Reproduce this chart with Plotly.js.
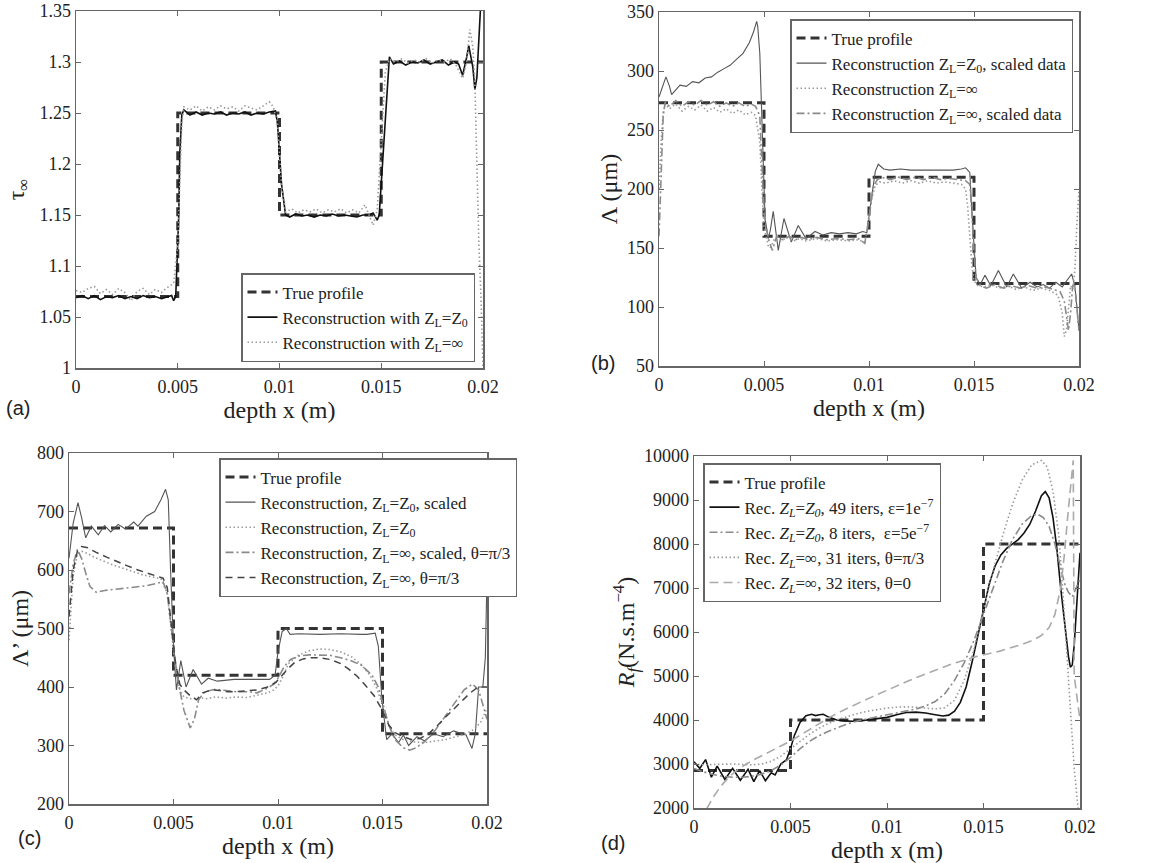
<!DOCTYPE html>
<html><head><meta charset="utf-8">
<script src="https://cdn.plot.ly/plotly-3.0.1.min.js"></script>
<style>html,body{margin:0;padding:0;background:#fff}#chart{width:1158px;height:863px}</style>
</head><body><div id="chart"></div>
<script>
// ---------- shared ticks ----------
const xTickVals = [0, 0.005, 0.01, 0.015, 0.02];
const xTickText = ['0', '0.005', '0.01', '0.015', '0.02'];
const aYTickVals = [1, 1.05, 1.1, 1.15, 1.2, 1.25, 1.3, 1.35];
const aYTickText = ['1', '1.05', '1.1', '1.15', '1.2', '1.25', '1.3', '1.35'];
const bYTickVals = [50, 100, 150, 200, 250, 300, 350];
const cYTickVals = [200, 300, 400, 500, 600, 700, 800];
const dYTickVals = [2000, 3000, 4000, 5000, 6000, 7000, 8000, 9000, 10000];
const dYTickText = ['2000', '3000', '4000', '5000', '6000', '7000', '8000', '9000', '10000'];

// ---------- panel (a) ----------
const aTrueX = [0, 0.005, 0.005, 0.01, 0.01, 0.015, 0.015, 0.02];
const aTrueY = [1.07, 1.07, 1.25, 1.25, 1.15, 1.15, 1.30, 1.30];
const aZ0X = [0, 0.0003, 0.0006, 0.0009, 0.0012, 0.0015, 0.0018, 0.0021, 0.0024, 0.0027,
  0.003, 0.0033, 0.0036, 0.0039, 0.0042, 0.0045, 0.0047, 0.0048, 0.0049, 0.00505,
  0.0051, 0.0052, 0.0053, 0.0056, 0.0059, 0.0062, 0.0065, 0.0068, 0.0071, 0.0074,
  0.0077, 0.008, 0.0083, 0.0086, 0.0089, 0.0092, 0.0095, 0.0098, 0.0099, 0.0101,
  0.0103, 0.0105, 0.0108, 0.0111, 0.0114, 0.0117, 0.012, 0.0123, 0.0126, 0.0129,
  0.0132, 0.0135, 0.0138, 0.0141, 0.0144, 0.0146, 0.0148, 0.0149, 0.0151, 0.0153,
  0.0154, 0.0156, 0.0159, 0.0162, 0.0165, 0.0168, 0.0171, 0.0174, 0.0177, 0.018,
  0.0183, 0.0186, 0.0188, 0.019, 0.0192, 0.0193, 0.0195, 0.0196, 0.0197, 0.0198,
  0.0199, 0.02];
const aZ0Y = [1.069, 1.071, 1.068, 1.071, 1.067, 1.070, 1.069, 1.071, 1.068, 1.070,
  1.068, 1.071, 1.069, 1.070, 1.068, 1.070, 1.071, 1.066, 1.070, 1.150,
  1.210, 1.248, 1.253, 1.248, 1.251, 1.248, 1.250, 1.249, 1.251, 1.248,
  1.250, 1.249, 1.251, 1.248, 1.250, 1.249, 1.251, 1.252, 1.240, 1.180,
  1.150, 1.148, 1.151, 1.149, 1.150, 1.148, 1.150, 1.149, 1.151, 1.149,
  1.150, 1.149, 1.148, 1.150, 1.150, 1.152, 1.145, 1.150, 1.210, 1.280,
  1.305, 1.298, 1.301, 1.297, 1.300, 1.299, 1.302, 1.298, 1.300, 1.302,
  1.297, 1.300, 1.298, 1.287, 1.305, 1.316, 1.295, 1.273, 1.285, 1.320,
  1.360, 1.400];
const aInfX = [0, 0.0003, 0.0006, 0.0009, 0.0012, 0.0015, 0.0018, 0.0021, 0.0024, 0.0027,
  0.003, 0.0033, 0.0036, 0.0039, 0.0042, 0.0045, 0.0048, 0.005, 0.0052, 0.0053,
  0.0056, 0.0059, 0.0062, 0.0065, 0.0068, 0.0071, 0.0074, 0.0077, 0.008, 0.0083,
  0.0086, 0.0089, 0.0092, 0.0095, 0.0097, 0.0099, 0.0101, 0.0103, 0.0106, 0.0109,
  0.0112, 0.0115, 0.0118, 0.0121, 0.0124, 0.0127, 0.013, 0.0133, 0.0136, 0.0139,
  0.0142, 0.0144, 0.0146, 0.0148, 0.015, 0.0152, 0.0154, 0.0157, 0.016, 0.0163,
  0.0166, 0.0169, 0.0172, 0.0175, 0.0178, 0.0181, 0.0184, 0.0187, 0.019, 0.0192,
  0.01935, 0.0195, 0.0196, 0.0197, 0.0198, 0.0199, 0.02];
const aInfY = [1.076, 1.074, 1.078, 1.080, 1.073, 1.077, 1.072, 1.078, 1.074, 1.066,
  1.075, 1.078, 1.072, 1.077, 1.074, 1.079, 1.083, 1.120, 1.240, 1.256,
  1.253, 1.257, 1.252, 1.256, 1.253, 1.257, 1.254, 1.256, 1.252, 1.257,
  1.255, 1.253, 1.257, 1.261, 1.256, 1.240, 1.180, 1.153, 1.156, 1.152,
  1.155, 1.153, 1.156, 1.152, 1.155, 1.153, 1.156, 1.152, 1.155, 1.152,
  1.160, 1.150, 1.140, 1.155, 1.220, 1.290, 1.303, 1.300, 1.303, 1.299,
  1.302, 1.300, 1.303, 1.299, 1.302, 1.300, 1.303, 1.296, 1.284, 1.300,
  1.332, 1.315, 1.280, 1.200, 1.120, 1.070, 1.000];

// ---------- panel (b) ----------
const bTrueX = [0, 0.005, 0.005, 0.01, 0.01, 0.015, 0.015, 0.02];
const bTrueY = [273, 273, 160, 160, 210, 210, 120, 120];
const bZ0X = [0, 0.0002, 0.00033, 0.0005, 0.0006, 0.0008, 0.001, 0.0013, 0.0016, 0.0019,
  0.0022, 0.0025, 0.0028, 0.0031, 0.0034, 0.0037, 0.004, 0.0043, 0.0045, 0.00465,
  0.0047, 0.0048, 0.0049, 0.00505, 0.0052, 0.0053, 0.00544, 0.00568, 0.00595, 0.0063,
  0.00663, 0.007, 0.00743, 0.0078, 0.0082, 0.0086, 0.009, 0.0094, 0.0097, 0.0099,
  0.0101, 0.0103, 0.01044, 0.0107, 0.011, 0.0115, 0.012, 0.0125, 0.013, 0.0135,
  0.014, 0.0144, 0.0146, 0.0148, 0.0149, 0.0151, 0.0153, 0.01552, 0.0158, 0.01616,
  0.01656, 0.01687, 0.01727, 0.01767, 0.018, 0.0183, 0.0186, 0.0189, 0.0192, 0.01965,
  0.0198, 0.0199, 0.02];
const bZ0Y = [278, 288, 295, 287, 280, 284, 288, 287, 291, 290,
  294, 295, 299, 302, 305, 310, 315, 324, 333, 342,
  338, 315, 260, 175, 158, 165, 181, 148, 175, 155,
  169, 158, 164, 161, 163, 162, 163, 162, 164, 163,
  190, 215, 221, 217, 216, 217, 216, 216, 216, 216,
  216, 217, 218, 214, 180, 125, 119, 127, 118, 131,
  117, 128, 116, 121, 117, 119, 116, 121, 117, 128,
  118, 100, 80];
const bInfX = [0, 0.0001, 0.0002, 0.0003, 0.0005, 0.0008, 0.0011, 0.0014, 0.0017, 0.002,
  0.0023, 0.0026, 0.0029, 0.0032, 0.0035, 0.0038, 0.0041, 0.0044, 0.0046, 0.0048,
  0.0049, 0.005, 0.0052, 0.0053, 0.0055, 0.0058, 0.0061, 0.0064, 0.0067, 0.007,
  0.0075, 0.008, 0.0085, 0.009, 0.0095, 0.0098, 0.0099, 0.0101, 0.0103, 0.0105,
  0.0108, 0.0112, 0.0116, 0.012, 0.0124, 0.0128, 0.0132, 0.0136, 0.014, 0.0144,
  0.0146, 0.0147, 0.0148, 0.0149, 0.015, 0.0152, 0.0155, 0.0158, 0.0162, 0.0166,
  0.017, 0.0174, 0.0178, 0.0182, 0.0186, 0.019, 0.0192, 0.0193, 0.0194, 0.0195,
  0.0196, 0.0197, 0.0198, 0.0199, 0.02];
const bInfY = [200, 240, 265, 272, 268, 272, 266, 270, 267, 271,
  266, 269, 265, 268, 264, 267, 263, 265, 262, 240,
  200, 168, 152, 150, 158, 156, 159, 156, 158, 156,
  158, 156, 157, 156, 157, 155, 165, 190, 203, 206,
  205, 207, 205, 207, 205, 207, 205, 206, 205, 204,
  200, 185, 160, 135, 122, 118, 117, 119, 116, 118,
  115, 117, 114, 116, 114, 110, 95, 75, 80, 100,
  118, 115, 130, 170, 200];
const bInfSX = [0, 0.0001, 0.0002, 0.0003, 0.0005, 0.0008, 0.0011, 0.0014, 0.0017, 0.002,
  0.0023, 0.0026, 0.0029, 0.0032, 0.0035, 0.0038, 0.0041, 0.0044, 0.0046, 0.0048,
  0.0049, 0.005, 0.0052, 0.0054, 0.0056, 0.0059, 0.0062, 0.0065, 0.0068, 0.0071,
  0.0075, 0.008, 0.0085, 0.009, 0.0095, 0.0098, 0.01, 0.0102, 0.0104, 0.0106,
  0.011, 0.0114, 0.0118, 0.0122, 0.0126, 0.013, 0.0134, 0.0138, 0.0142, 0.0146,
  0.0148, 0.0149, 0.015, 0.0151, 0.0153, 0.0156, 0.016, 0.0164, 0.0168, 0.0172,
  0.0176, 0.018, 0.0184, 0.0188, 0.0191, 0.0193, 0.0194, 0.0195, 0.0196, 0.0197,
  0.0198, 0.0199, 0.02];
const bInfSY = [160, 220, 262, 274, 270, 275, 270, 274, 271, 275,
  271, 274, 270, 273, 270, 273, 270, 272, 270, 262,
  225, 180, 158, 148, 160, 157, 160, 157, 159, 157,
  159, 157, 158, 157, 158, 154, 175, 202, 208, 210,
  208, 210, 208, 210, 208, 210, 208, 209, 208, 207,
  204, 180, 145, 125, 118, 116, 119, 116, 118, 116,
  118, 116, 117, 115, 113, 105, 90, 80, 95, 118,
  118, 100, 80];

// ---------- panel (c) ----------
const cTrueX = [0, 0.005, 0.005, 0.01, 0.01, 0.015, 0.015, 0.02];
const cTrueY = [672, 672, 420, 420, 500, 500, 320, 320];
const cZ0SX = [0, 0.0002, 0.00043, 0.0006, 0.0008, 0.00107, 0.0014, 0.0017, 0.002, 0.00235,
  0.0027, 0.0031, 0.0033, 0.0037, 0.0041, 0.0044, 0.00462, 0.00475, 0.00486, 0.005,
  0.00514, 0.00535, 0.0056, 0.00594, 0.00634, 0.00666, 0.0071, 0.0079, 0.0088, 0.0096,
  0.00986, 0.01, 0.0102, 0.0104, 0.01058, 0.011, 0.012, 0.013, 0.014, 0.01425,
  0.01465, 0.0148, 0.01497, 0.0152, 0.01545, 0.01577, 0.016, 0.01625, 0.01665, 0.017,
  0.01745, 0.0179, 0.0184, 0.019, 0.01928, 0.01944, 0.0196, 0.0198, 0.01992, 0.02];
const cZ0SY = [620, 680, 715, 690, 655, 675, 660, 676, 665, 678,
  670, 682, 675, 692, 700, 720, 738, 720, 600, 470,
  395, 445, 400, 430, 405, 415, 410, 413, 413, 413,
  420, 460, 495, 500, 490, 491, 490, 491, 490, 490,
  492, 470, 380, 310, 320, 305, 318, 300, 315, 308,
  320, 315, 325, 318, 295, 320, 400, 400, 450, 590];
const cZ0X = [0, 0.0002, 0.0004, 0.0006, 0.0009, 0.0012, 0.0016, 0.002, 0.0025, 0.003,
  0.0035, 0.004, 0.0044, 0.0047, 0.0049, 0.0051, 0.0053, 0.0055, 0.0058, 0.0062,
  0.0066, 0.007, 0.0075, 0.008, 0.0085, 0.009, 0.0095, 0.0098, 0.01, 0.0102,
  0.0105, 0.011, 0.0115, 0.012, 0.0125, 0.013, 0.0135, 0.014, 0.0144, 0.0147,
  0.015, 0.0153, 0.0156, 0.016, 0.0165, 0.017, 0.0175, 0.018, 0.0185, 0.019,
  0.0194, 0.0197, 0.0199, 0.02];
const cZ0Y = [480, 590, 628, 632, 628, 622, 616, 610, 604, 598,
  592, 588, 585, 560, 500, 430, 395, 383, 380, 382,
  380, 383, 381, 383, 382, 386, 390, 395, 402, 415,
  440, 455, 462, 465, 464, 460, 452, 438, 420, 400,
  370, 335, 318, 310, 306, 305, 307, 310, 315, 320,
  328, 340, 355, 365];
const cInfSX = [0, 0.0002, 0.0004, 0.0006, 0.0008, 0.001, 0.0013, 0.0017, 0.0022, 0.0027,
  0.0032, 0.0037, 0.0042, 0.0045, 0.0047, 0.0049, 0.0051, 0.0053, 0.0055, 0.0058,
  0.006, 0.0062, 0.0065, 0.007, 0.0075, 0.008, 0.0085, 0.009, 0.0095, 0.0098,
  0.01, 0.0103, 0.0106, 0.011, 0.0115, 0.012, 0.0125, 0.013, 0.0135, 0.014,
  0.0145, 0.0148, 0.015, 0.0153, 0.0156, 0.016, 0.0163, 0.0166, 0.017, 0.0175,
  0.018, 0.0185, 0.0189, 0.0193, 0.0196, 0.0198, 0.02];
const cInfSY = [560, 610, 635, 620, 595, 572, 562, 565, 567, 569,
  571, 573, 577, 580, 560, 500, 440, 395, 360, 330,
  345, 378, 392, 396, 394, 392, 392, 390, 398, 405,
  415, 435, 447, 453, 455, 455, 454, 450, 445, 437,
  420, 400, 375, 335, 310, 296, 292, 296, 306, 325,
  350, 375, 395, 405, 395, 370, 345];
const cInfX = [0, 0.0002, 0.0004, 0.0006, 0.0009, 0.0013, 0.0018, 0.0023, 0.0028, 0.0033,
  0.0038, 0.0042, 0.0045, 0.0047, 0.0049, 0.0051, 0.0053, 0.0055, 0.0058, 0.0061,
  0.0064, 0.0068, 0.0072, 0.0076, 0.008, 0.0085, 0.009, 0.0095, 0.0099, 0.0102,
  0.0105, 0.0108, 0.0112, 0.0116, 0.012, 0.0125, 0.013, 0.0134, 0.0138, 0.0142,
  0.0146, 0.015, 0.0153, 0.0156, 0.016, 0.0164, 0.0168, 0.0172, 0.0176, 0.018,
  0.0184, 0.0188, 0.0192, 0.0195, 0.0197, 0.02];
const cInfY = [520, 600, 632, 640, 638, 630, 622, 614, 607, 600,
  594, 590, 586, 570, 510, 440, 405, 395, 385, 378,
  390, 395, 394, 392, 392, 393, 395, 400, 408, 420,
  432, 442, 448, 450, 450, 447, 440, 430, 418, 402,
  385, 360, 335, 322, 315, 310, 312, 320, 333, 348,
  362, 376, 390, 398, 400, 400];

// ---------- panel (d) ----------
const dTrueX = [0, 0.005, 0.005, 0.015, 0.015, 0.02];
const dTrueY = [2850, 2850, 4000, 4000, 8000, 8000];
const dZ049X = [0, 0.0003, 0.0006, 0.0009, 0.0012, 0.0016, 0.002, 0.0024, 0.0028, 0.0031,
  0.0034, 0.0037, 0.004, 0.0042, 0.0045, 0.0048, 0.005, 0.0052, 0.0055, 0.0058,
  0.0061, 0.0063, 0.0065, 0.0067, 0.007, 0.0074, 0.0078, 0.0082, 0.0086, 0.009,
  0.0095, 0.01, 0.0105, 0.011, 0.0115, 0.012, 0.0125, 0.0129, 0.0132, 0.0135,
  0.0138, 0.0141, 0.0144, 0.0147, 0.015, 0.0153, 0.0156, 0.0159, 0.0162, 0.0165,
  0.0168, 0.0171, 0.0174, 0.0177, 0.018, 0.0182, 0.0184, 0.0186, 0.0188, 0.019,
  0.0192, 0.0194, 0.0195, 0.0196, 0.0197, 0.0198, 0.0199, 0.02];
const dZ049Y = [3050, 2900, 3100, 2700, 2950, 2650, 2900, 2630, 2880, 2600,
  2850, 2620, 2800, 2750, 3000, 3100, 3350, 3650, 3950, 4100,
  4130, 4100, 4120, 4130, 4060, 4000, 3980, 3970, 3980, 4000,
  4020, 4060, 4120, 4170, 4180, 4160, 4120, 4090, 4110, 4200,
  4400, 4750, 5300, 5900, 6500, 7100, 7500, 7750, 7900, 8000,
  8100, 8250, 8450, 8750, 9100, 9190, 9050, 8600, 7900, 7000,
  6200, 5450, 5200, 5250, 5700, 6400, 7100, 7800];
const dZ08X = [0, 0.0005, 0.001, 0.0015, 0.002, 0.0025, 0.003, 0.0035, 0.004, 0.0045,
  0.005, 0.0055, 0.006, 0.0065, 0.007, 0.0075, 0.008, 0.0085, 0.009, 0.0095,
  0.01, 0.0105, 0.011, 0.0115, 0.012, 0.0125, 0.013, 0.0135, 0.014, 0.0145,
  0.015, 0.0155, 0.016, 0.0165, 0.017, 0.0175, 0.0178, 0.0181, 0.0184, 0.0187,
  0.019, 0.0192, 0.0194, 0.0196, 0.0198, 0.02];
const dZ08Y = [2900, 2820, 2760, 2720, 2700, 2700, 2720, 2770, 2850, 2980,
  3150, 3350, 3520, 3650, 3750, 3840, 3920, 3980, 4030, 4080,
  4120, 4160, 4200, 4250, 4320, 4420, 4600, 4900, 5300, 5800,
  6400, 7000, 7600, 8100, 8450, 8650, 8680, 8600, 8400, 8000,
  7500, 7100, 6900, 6800, 7000, 7200];
const dInf31X = [0, 0.0005, 0.001, 0.0015, 0.002, 0.0025, 0.003, 0.0035, 0.004, 0.0045,
  0.005, 0.0055, 0.006, 0.0065, 0.007, 0.0075, 0.008, 0.0085, 0.009, 0.0095,
  0.01, 0.0105, 0.011, 0.0115, 0.012, 0.0125, 0.013, 0.0135, 0.014, 0.0145,
  0.015, 0.0155, 0.016, 0.0165, 0.017, 0.0175, 0.018, 0.0183, 0.0186, 0.0189,
  0.0191, 0.0193, 0.0195, 0.0197, 0.0199, 0.02];
const dInf31Y = [3000, 2980, 2990, 3000, 3000, 2990, 2980, 3000, 3060, 3180,
  3350, 3520, 3680, 3820, 3930, 4020, 4090, 4150, 4200, 4240,
  4270, 4290, 4300, 4290, 4270, 4250, 4280, 4450, 4900, 5600,
  6500, 7400, 8200, 8900, 9450, 9800, 9900, 9750, 9200, 8200,
  7000, 5600, 4100, 2900, 2000, 1700];
const dInf32X = [0.0003, 0.0006, 0.001, 0.0014, 0.0018, 0.0022, 0.0027, 0.0032, 0.0038, 0.0044,
  0.005, 0.0056, 0.0062, 0.0068, 0.0074, 0.008, 0.0086, 0.0092, 0.0098, 0.0104,
  0.011, 0.0116, 0.0122, 0.0128, 0.0134, 0.014, 0.0146, 0.0152, 0.0158, 0.0164,
  0.017, 0.0176, 0.018, 0.0184, 0.0187, 0.019, 0.0192, 0.0194, 0.0196, 0.01965,
  0.0197, 0.02];
const dInf32Y = [1700, 1950, 2250, 2500, 2700, 2850, 3000, 3120, 3250, 3380,
  3520, 3680, 3850, 4000, 4150, 4280, 4400, 4520, 4640, 4760,
  4870, 4980, 5080, 5180, 5280, 5360, 5440, 5500, 5560, 5640,
  5720, 5820, 5920, 6100, 6400, 7000, 7800, 8800, 9800, 9900,
  5000, 4000];

// ---------- styles ----------
const SERIF = "'Liberation Serif', 'Times New Roman', serif";
const trueLine = {color: '#333', width: 3, dash: '9px,5px'};
const solidDark = {color: '#111', width: 1.6};
const solidGray = {color: '#555', width: 1.1};
const dottedGray = {color: '#9a9a9a', width: 1.6, dash: '1.5px,2.5px'};
const dashDotGray = {color: '#8a8a8a', width: 1.6, dash: '8px,3px,2px,3px'};
const dashedDark = {color: '#444', width: 1.5, dash: '7px,5px'};
const dashedLight = {color: '#aaa', width: 1.6, dash: '9px,5px'};

function tr(x, y, n, name, line, leg) {
  return {type: 'scatter', mode: 'lines', x: x, y: y, xaxis: 'x' + (n === 1 ? '' : n),
    yaxis: 'y' + (n === 1 ? '' : n), name: name, line: line, legend: leg, hoverinfo: 'skip'};
}
const data = [
  tr(aTrueX, aTrueY, 1, 'True profile', trueLine, 'legend'),
  tr(aZ0X, aZ0Y, 1, 'Reconstruction with Z<sub>L</sub>=Z<sub>0</sub>', solidDark, 'legend'),
  tr(aInfX, aInfY, 1, 'Reconstruction with Z<sub>L</sub>=∞', dottedGray, 'legend'),

  tr(bTrueX, bTrueY, 2, 'True profile', trueLine, 'legend2'),
  tr(bZ0X, bZ0Y, 2, 'Reconstruction Z<sub>L</sub>=Z<sub>0</sub>, scaled data', solidGray, 'legend2'),
  tr(bInfX, bInfY, 2, 'Reconstruction Z<sub>L</sub>=∞', dottedGray, 'legend2'),
  tr(bInfSX, bInfSY, 2, 'Reconstruction Z<sub>L</sub>=∞, scaled data', dashDotGray, 'legend2'),

  tr(cTrueX, cTrueY, 3, 'True profile', trueLine, 'legend3'),
  tr(cZ0SX, cZ0SY, 3, 'Reconstruction, Z<sub>L</sub>=Z<sub>0</sub>, scaled', solidGray, 'legend3'),
  tr(cZ0X, cZ0Y, 3, 'Reconstruction, Z<sub>L</sub>=Z<sub>0</sub>', dottedGray, 'legend3'),
  tr(cInfSX, cInfSY, 3, 'Reconstruction, Z<sub>L</sub>=∞, scaled, θ=π/3', dashDotGray, 'legend3'),
  tr(cInfX, cInfY, 3, 'Reconstruction, Z<sub>L</sub>=∞, θ=π/3', dashedDark, 'legend3'),

  tr(dTrueX, dTrueY, 4, 'True profile', trueLine, 'legend4'),
  tr(dZ049X, dZ049Y, 4, 'Rec. <i>Z<sub>L</sub></i>=<i>Z<sub>0</sub></i>, 49 iters, ε=1e<sup>−7</sup>', solidDark, 'legend4'),
  tr(dZ08X, dZ08Y, 4, 'Rec. <i>Z<sub>L</sub></i>=<i>Z<sub>0</sub></i>, 8 iters,  ε=5e<sup>−7</sup>', dashDotGray, 'legend4'),
  tr(dInf31X, dInf31Y, 4, 'Rec. <i>Z<sub>L</sub></i>=∞, 31 iters, θ=π/3', dottedGray, 'legend4'),
  tr(dInf32X, dInf32Y, 4, 'Rec. <i>Z<sub>L</sub></i>=∞, 32 iters, θ=0', dashedLight, 'legend4')
];

// ---------- layout ----------
const W = 1158, H = 863;
const fx = p => p / W, fy = p => 1 - p / H;
const tickFont = {family: SERIF, size: 18, color: '#222'};
const titleFont = {family: SERIF, size: 24, color: '#222'};
function xax(l, r, anchor) {
  return {domain: [fx(l), fx(r)], anchor: anchor, range: [0, 0.02], tickvals: xTickVals, ticktext: xTickText,
    showline: true, mirror: 'ticks', linecolor: '#666', linewidth: 1.5, ticks: 'inside', ticklen: 5,
    tickcolor: '#666', showgrid: false, zeroline: false, tickfont: tickFont, ticklabelstandoff: 2,
    title: {text: 'depth x (m)', font: titleFont, standoff: 0}};
}
function yax(b, t, anchor, range, vals, text, title, standoff) {
  const o = {domain: [fy(b), fy(t)], anchor: anchor, range: range, tickvals: vals,
    showline: true, mirror: 'ticks', linecolor: '#666', linewidth: 1.5, ticks: 'inside', ticklen: 5,
    tickcolor: '#666', showgrid: false, zeroline: false, tickfont: tickFont,
    title: {text: title, font: titleFont, standoff: standoff}};
  if (text) o.ticktext = text;
  return o;
}
function leg(l, t) {
  return {x: fx(l), y: fy(t), xanchor: 'left', yanchor: 'top', bgcolor: '#fff', bordercolor: '#666',
    borderwidth: 1.5, font: {family: SERIF, size: 17, color: '#222'}, tracegroupgap: 0, itemwidth: 30};
}
const panelFont = {family: "'Liberation Sans', Arial, sans-serif", size: 20, color: '#222'};
function lab(text, x, y) {
  return {text: text, x: fx(x), y: fy(y), xref: 'paper', yref: 'paper', showarrow: false, font: panelFont,
    xanchor: 'center', yanchor: 'middle'};
}
const layout = {
  width: W, height: H, margin: {l: 0, r: 0, t: 0, b: 0}, paper_bgcolor: '#fff', plot_bgcolor: '#fff',
  showlegend: true,
  xaxis: xax(76, 483, 'y'),
  yaxis: yax(368, 11, 'x', [1, 1.35], aYTickVals, aYTickText, 'τ<sub>∞</sub>', 8),
  xaxis2: xax(659, 1079, 'y2'),
  yaxis2: yax(366, 12, 'x2', [50, 350], bYTickVals, null, 'Λ (μm)', 2),
  xaxis3: xax(69, 487, 'y3'),
  yaxis3: yax(804, 453, 'x3', [200, 800], cYTickVals, null, 'Λ’ (μm)', 1),
  xaxis4: xax(694, 1080, 'y4'),
  yaxis4: yax(808, 456, 'x4', [2000, 10000], dYTickVals, dYTickText, '<i>R</i><sub><i>f</i></sub>(N.s.m<sup>−4</sup>)', 2),
  legend: leg(241, 273),
  legend2: leg(790, 19),
  legend3: leg(219, 458),
  legend4: leg(703, 463),
  annotations: [lab('(a)', 18, 408), lab('(b)', 603, 363), lab('(c)', 30, 838), lab('(d)', 613, 843)]
};
Plotly.newPlot('chart', data, layout, {staticPlot: true, displayModeBar: false});
</script></body></html>
